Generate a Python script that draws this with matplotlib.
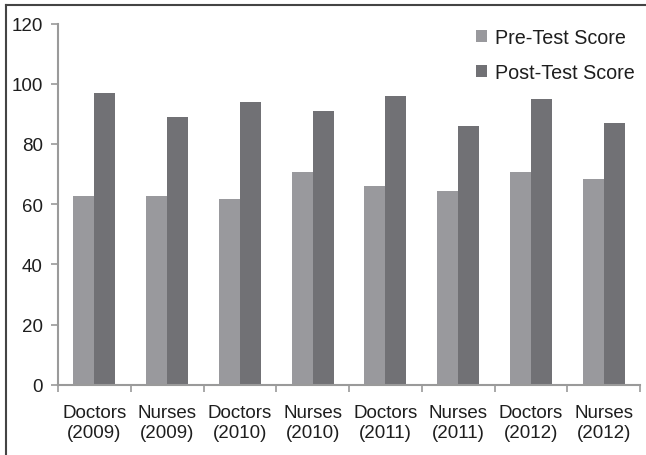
import matplotlib
matplotlib.use("Agg")
import matplotlib.pyplot as plt
from matplotlib.lines import Line2D
import numpy as np

plt.rcParams['font.family'] = ['Liberation Sans', 'DejaVu Sans']

groups = ["Doctors\n(2009)", "Nurses\n(2009)", "Doctors\n(2010)", "Nurses\n(2010)",
          "Doctors\n(2011)", "Nurses\n(2011)", "Doctors\n(2012)", "Nurses\n(2012)"]
pre_scores = [62.8, 62.8, 61.8, 70.8, 66.0, 64.2, 70.8, 68.5]
post_scores = [96.8, 88.8, 94.0, 91.0, 95.8, 85.8, 94.8, 86.8]
y_ticks = [0, 20, 40, 60, 80, 100, 120]

PRE_COLOR = "#99999d"
POST_COLOR = "#717175"
AXIS_COLOR = "#9a9a9a"
TEXT_COLOR = "#1e1e1e"
FS = 13.5

fig = plt.figure(figsize=(6.46, 4.56), dpi=100)
ax = fig.add_axes([58/646, 1 - 385.7/456, (640 - 58)/646, (385.7 - 24.5)/456])

x = np.arange(len(groups))
w = 0.29
ax.bar(x - w/2, pre_scores, w, color=PRE_COLOR, label="Pre-Test Score")
ax.bar(x + w/2, post_scores, w, color=POST_COLOR, label="Post-Test Score")

ax.set_xlim(-0.5, len(groups) - 0.5)
ax.set_ylim(0, 120)
ax.set_yticks(y_ticks)
ax.tick_params(axis='y', length=5, width=1.2, color=AXIS_COLOR, pad=6,
               labelsize=FS, labelcolor=TEXT_COLOR)

# category labels centred, tick marks on the boundaries
ax.set_xticks(x)
ax.set_xticklabels(groups)
ax.set_xticks(np.arange(len(groups) + 1) - 0.5, minor=True)
ax.tick_params(axis='x', which='major', length=0, pad=14,
               labelsize=FS, labelcolor=TEXT_COLOR)
ax.tick_params(axis='x', which='minor', length=5, width=1.2, color=AXIS_COLOR)

for side in ['top', 'right']:
    ax.spines[side].set_visible(False)
for side in ['left', 'bottom']:
    ax.spines[side].set_color(AXIS_COLOR)
    ax.spines[side].set_linewidth(1.5)

fig.legend(loc='upper left', bbox_to_anchor=(476/646, 1 - 29/456),
           frameon=False, fontsize=14.2, borderpad=0, borderaxespad=0,
           handlelength=0.55, handleheight=0.55, handletextpad=0.4,
           labelspacing=0.8, labelcolor=TEXT_COLOR)

# partial frame of the cropped figure
fig.add_artist(Line2D([6/646, 1], [1 - 6/456, 1 - 6/456], color="#444444", lw=1.5))
fig.add_artist(Line2D([6/646, 6/646], [0, 1 - 6/456], color="#444444", lw=1.5))

fig.savefig("out.png", dpi=100)
